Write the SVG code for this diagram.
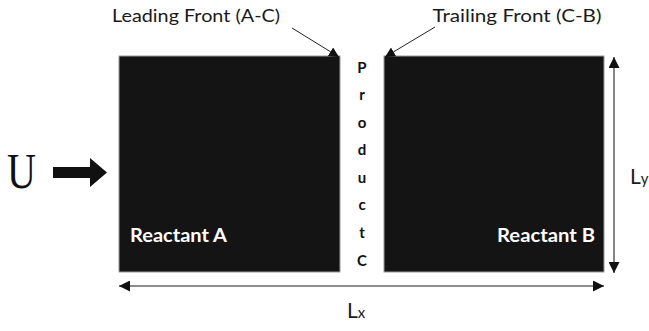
<svg xmlns="http://www.w3.org/2000/svg" width="649" height="331" viewBox="0 0 649 331">
<style>
.blk{fill:#141414;stroke:#9a9a9a;stroke-width:1}
.lbl{font-family:Lato,"Open Sans","Liberation Sans",sans-serif;fill:#1a1a1a}
.prod{font-family:Lato,"Open Sans","Liberation Sans",sans-serif;font-weight:bold;font-size:15px;fill:#111;text-anchor:middle}
.wht{font-family:Lato,"Open Sans","Liberation Sans",sans-serif;font-weight:bold;font-size:19px;fill:#fff}
.dim{stroke:#666;stroke-width:1.6;fill:none}
.lead{stroke:#222;stroke-width:1;fill:none}
</style>
<defs>
<marker id="ah" viewBox="0 0 10 10" refX="10" refY="5" markerWidth="10" markerHeight="10" markerUnits="userSpaceOnUse" orient="auto-start-reverse">
<path d="M0,0 L10,5 L0,10 z" fill="#111"/>
</marker>
<marker id="ah2" viewBox="0 0 10 10" refX="10" refY="5" markerWidth="11" markerHeight="11" markerUnits="userSpaceOnUse" orient="auto-start-reverse">
<path d="M0,0 L10,5 L0,10 z" fill="#111"/>
</marker>
</defs>
<g id="reactantA">
<rect class="blk" x="119" y="56" width="221" height="216"/>
<text class="wht" x="130" y="242" textLength="97" lengthAdjust="spacingAndGlyphs">Reactant A</text>
</g>
<g id="reactantB">
<rect class="blk" x="384" y="56" width="220" height="216"/>
<text class="wht" x="497" y="242" textLength="98" lengthAdjust="spacingAndGlyphs">Reactant B</text>
</g>
<g id="productC">
<text class="prod" x="362" y="73">P</text>
<text class="prod" x="362" y="100">r</text>
<text class="prod" x="362" y="128">o</text>
<text class="prod" x="362" y="155">d</text>
<text class="prod" x="362" y="183">u</text>
<text class="prod" x="362" y="210">c</text>
<text class="prod" x="362" y="238">t</text>
<text class="prod" x="362" y="266">C</text>
</g>
<g id="flow">
<text x="7" y="188" font-family="'Liberation Serif',serif" font-size="50" fill="#111" textLength="29" lengthAdjust="spacingAndGlyphs">U</text>
<path d="M53,167 L90,167 L90,158 L107,172.5 L90,187 L90,178 L53,178 z" fill="#111"/>
</g>
<g id="labels">
<text class="lbl" x="196" y="22" font-size="18" text-anchor="middle" textLength="168" lengthAdjust="spacingAndGlyphs">Leading Front (A-C)</text>
<text class="lbl" x="517" y="22" font-size="18" text-anchor="middle" textLength="169" lengthAdjust="spacingAndGlyphs">Trailing Front (C-B)</text>
<text class="lbl" x="630" y="184" font-size="21">L<tspan font-size="15">y</tspan></text>
<text class="lbl" x="347" y="318" font-size="21">L<tspan font-size="15">x</tspan></text>
</g>
<g id="connectors">
<line class="lead" x1="292" y1="28" x2="339" y2="57" marker-end="url(#ah)"/>
<line class="lead" x1="435" y1="27" x2="385" y2="57" marker-end="url(#ah)"/>
<line class="dim" x1="614" y1="57" x2="614" y2="273" marker-start="url(#ah2)" marker-end="url(#ah2)"/>
<line class="dim" x1="119" y1="286" x2="604" y2="286" marker-start="url(#ah2)" marker-end="url(#ah2)"/>
</g>
</svg>
